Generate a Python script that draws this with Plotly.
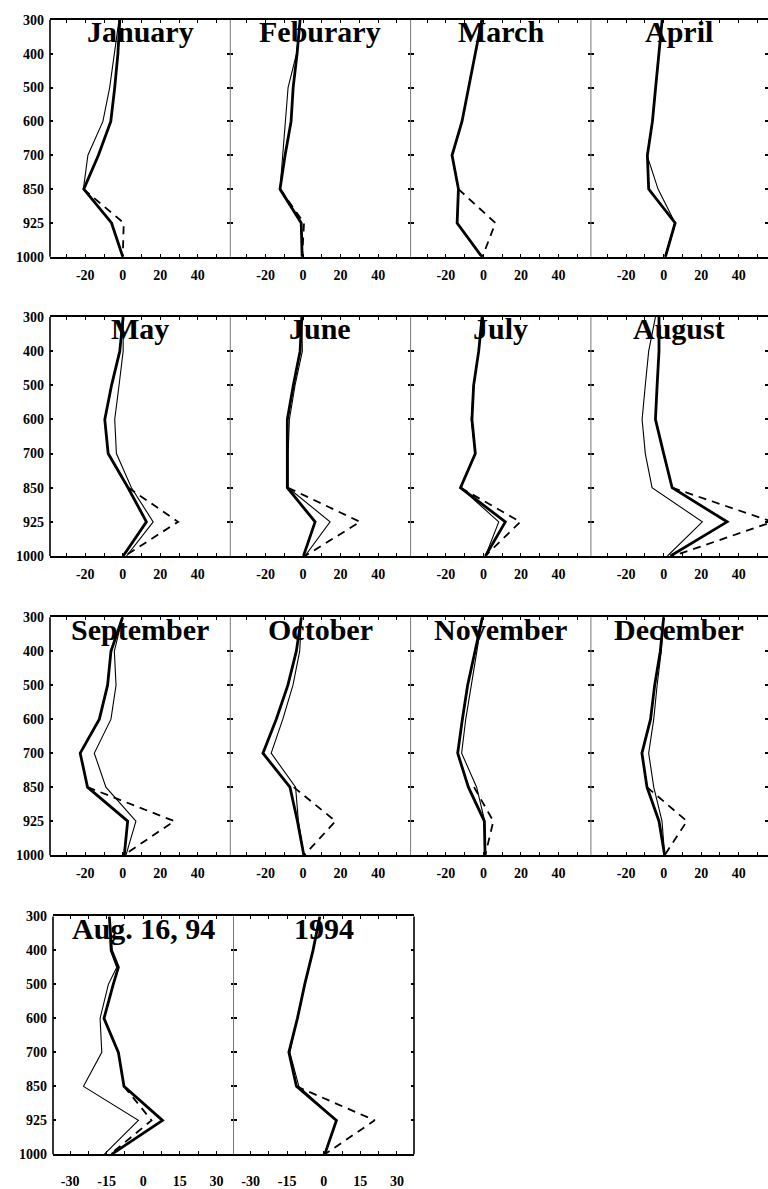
import numpy as np
import plotly.graph_objects as go

# Pressure levels (hPa) shown on the vertical axis, top to bottom
LEVELS = [300, 400, 500, 600, 700, 850, 925, 1000]
LOW_LEVELS = [850, 925, 1000]
AUG16_LEVELS = [300, 400, 450, 500, 600, 700, 850, 925, 1000]

MONTH_XTICKS = [-20, 0, 20, 40]
CASE_XTICKS = [-30, -15, 0, 15, 30]

TITLES = ["January", "Feburary", "March", "April",
          "May", "June", "July", "August",
          "September", "October", "November", "December",
          "Aug. 16, 94", "1994"]

# Profiles: thick solid, thin solid and dashed (dashed only in the lowest layer)
jan_thick = [-1.6, -2.6, -4.3, -6.4, -13.0, -20.8, -6.0, 0.0]
jan_thin = [-2.0, -4.3, -7.0, -10.6, -18.6, -21.0, -6.0, 0.0]
jan_dash = [-21.0, 0.5, 0.0]

feb_thick = [-1.6, -3.2, -5.3, -6.4, -9.6, -12.3, -1.0, -0.5]
feb_thin = [-1.6, -3.5, -8.0, -9.5, -11.0, -12.3, -1.0, -0.5]
feb_dash = [-12.3, 0.5, -0.5]

mar_thick = [-0.8, -4.4, -8.0, -11.4, -16.7, -13.3, -14.0, -0.8]
mar_thin = [-0.8, -4.4, -8.0, -11.4, -16.7, -13.3, -14.0, -0.8]
mar_dash = [-13.3, 6.4, -0.5]

apr_thick = [-0.8, -2.7, -4.3, -6.0, -8.7, -8.0, 6.1, 0.9]
apr_thin = [-0.8, -2.7, -4.3, -6.0, -8.9, -3.0, 6.1, 0.9]
apr_dash = [-8.0, 6.1, 0.9]

may_thick = [0.2, -1.6, -6.0, -9.6, -7.8, 2.8, 12.6, 0.2]
may_thin = [0.2, 0.2, -2.0, -4.3, -3.4, 4.6, 16.2, 2.0]
may_dash = [3.0, 29.5, 1.0]

jun_thick = [-0.7, -1.6, -5.2, -8.4, -8.4, -8.4, 6.4, 0.2]
jun_thin = [-0.7, -0.4, -4.3, -7.3, -8.0, -8.0, 14.4, 1.0]
jun_dash = [-8.0, 30.4, 1.0]

jul_thick = [-0.7, -2.5, -5.2, -6.1, -4.3, -12.2, 11.7, 1.1]
jul_thin = [-0.7, -2.5, -5.2, -6.5, -4.3, -12.2, 8.2, 1.1]
jul_dash = [-12.2, 19.7, 1.0]

aug_thick = [-2.5, -2.5, -3.5, -4.4, 0.0, 4.5, 33.8, 3.6]
aug_thin = [-4.4, -8.0, -9.8, -11.5, -9.8, -6.2, 20.6, 2.0]
aug_dash = [4.5, 58.0, 5.0]

sep_thick = [-0.1, -6.3, -8.1, -12.5, -22.7, -18.8, 2.6, 0.8]
sep_thin = [-0.1, -4.5, -3.6, -6.3, -15.2, -9.0, 7.0, 1.7]
sep_dash = [-18.8, 27.5, 0.5]

oct_thick = [-0.9, -3.6, -8.1, -14.3, -21.4, -7.0, -3.0, 0.4]
oct_thin = [-0.9, -1.8, -5.4, -10.8, -17.0, -4.0, -2.5, 0.4]
oct_dash = [-5.0, 17.3, 0.6]

nov_thick = [-0.5, -4.4, -8.4, -11.2, -13.7, -8.0, 0.5, 0.9]
nov_thin = [-0.5, -3.6, -6.6, -9.4, -11.6, -3.6, 0.7, 0.9]
nov_dash = [-5.0, 5.3, 1.0]

dec_thick = [0.0, -1.8, -4.8, -7.0, -11.6, -8.9, -2.5, 0.5]
dec_thin = [0.0, -1.3, -3.5, -5.3, -8.0, -5.3, -0.9, 0.5]
dec_dash = [-8.9, 12.4, 0.5]

aug16_thick = [-13.9, -13.0, -10.2, -12.3, -16.1, -10.2, -7.9, 7.9, -13.0]
aug16_thin = [-13.9, -13.5, -10.9, -14.3, -17.7, -17.0, -24.5, -2.0, -16.0]
aug16_dash = [-7.9, 3.4, -13.5]

y1994_thick = [-1.6, -4.4, -7.8, -10.8, -14.3, -11.2, 5.2, 0.4]
y1994_thin = [-1.6, -4.4, -7.8, -10.8, -13.9, -10.2, 5.2, 0.4]
y1994_dash = [-11.2, 20.9, 0.4]

PANELS = [
    (LEVELS, jan_thick, jan_thin, jan_dash),
    (LEVELS, feb_thick, feb_thin, feb_dash),
    (LEVELS, mar_thick, mar_thin, mar_dash),
    (LEVELS, apr_thick, apr_thin, apr_dash),
    (LEVELS, may_thick, may_thin, may_dash),
    (LEVELS, jun_thick, jun_thin, jun_dash),
    (LEVELS, jul_thick, jul_thin, jul_dash),
    (LEVELS, aug_thick, aug_thin, aug_dash),
    (LEVELS, sep_thick, sep_thin, sep_dash),
    (LEVELS, oct_thick, oct_thin, oct_dash),
    (LEVELS, nov_thick, nov_thin, nov_dash),
    (LEVELS, dec_thick, dec_thin, dec_dash),
    (AUG16_LEVELS, aug16_thick, aug16_thin, aug16_dash),
    (LEVELS, y1994_thick, y1994_thin, y1994_dash),
]

W, H = 768, 1189
ROW_PX = [(13, 253), (314, 556), (618, 859), (921, 1162)]
MONTH_EDGES = [50, 230.3, 410.6, 590.9, 768]
CASE_EDGES = [53, 233.5, 414]
MONTH_PX_PER_UNIT = 1.876
MONTH_XMIN = -38.8
CASE_XRANGE = [-37, 37]

LEVEL_POS = list(range(len(LEVELS)))


def level_position(pressures):
    # equal spacing between the labelled levels on the vertical axis
    return np.interp(pressures, LEVELS, LEVEL_POS)


TICK_FONT = dict(family="Liberation Serif", size=14, color="black", weight="bold")
TITLE_FONT = dict(family="Liberation Serif", size=30, color="black", weight="bold")

fig = go.Figure()
layout = dict(
    width=W, height=H, margin=dict(l=0, r=0, t=0, b=0),
    paper_bgcolor="white", plot_bgcolor="white", showlegend=False,
)
shapes = []
annotations = []

for i, (levels, thick, thin, dash) in enumerate(PANELS):
    n = i + 1
    row = i // 4
    col = i % 4
    top, bottom = ROW_PX[row]
    if row < 3:
        x0, x1 = MONTH_EDGES[col], MONTH_EDGES[col + 1]
        xr = [MONTH_XMIN, MONTH_XMIN + (x1 - x0) / MONTH_PX_PER_UNIT]
        xt = MONTH_XTICKS
        minor_dtick = 10
        standoff = 4
    else:
        x0, x1 = CASE_EDGES[col], CASE_EDGES[col + 1]
        xr = CASE_XRANGE
        xt = CASE_XTICKS
        minor_dtick = 7.5
        standoff = 13

    xa = "x" if n == 1 else f"x{n}"
    ya = "y" if n == 1 else f"y{n}"

    fig.add_trace(go.Scatter(
        x=dash, y=level_position(LOW_LEVELS), xaxis=xa, yaxis=ya, mode="lines",
        line=dict(color="black", width=1.8, dash="8px,6px"), hoverinfo="skip"))
    fig.add_trace(go.Scatter(
        x=thick, y=level_position(levels), xaxis=xa, yaxis=ya, mode="lines",
        line=dict(color="black", width=2.8), hoverinfo="skip"))
    fig.add_trace(go.Scatter(
        x=thin, y=level_position(levels), xaxis=xa, yaxis=ya, mode="lines",
        line=dict(color="black", width=1.1), hoverinfo="skip"))

    layout["xaxis" if n == 1 else f"xaxis{n}"] = dict(
        domain=[x0 / W, x1 / W], range=xr, anchor=ya,
        tickvals=xt, ticktext=[str(v) for v in xt],
        ticks="inside", ticklen=3, tickwidth=1, tickcolor="black",
        minor=dict(dtick=minor_dtick, tick0=0, ticks="inside", ticklen=3,
                   tickcolor="black", showgrid=False),
        showline=True, linewidth=2, linecolor="black", mirror="allticks",
        showgrid=False, zeroline=False, tickfont=TICK_FONT,
        ticklabelstandoff=standoff, fixedrange=True,
    )
    layout["yaxis" if n == 1 else f"yaxis{n}"] = dict(
        domain=[1 - bottom / H, 1 - top / H], range=[len(LEVELS) - 1, 0],
        anchor=xa, tickvals=LEVEL_POS, ticktext=[str(v) for v in LEVELS],
        showticklabels=(col == 0), ticks="inside", ticklen=3, tickwidth=1.5,
        tickcolor="black", mirror="ticks", showline=False, showgrid=False,
        zeroline=False, tickfont=TICK_FONT, ticklabelstandoff=5, fixedrange=True,
    )
    annotations.append(dict(
        text=TITLES[i], xref=f"{xa} domain", x=0.5, yref="paper",
        y=1 - (top + 12) / H, xanchor="center", yanchor="middle",
        showarrow=False, font=TITLE_FONT))

# frame edges and panel dividers
for row, (top, bottom) in enumerate(ROW_PX):
    edges = MONTH_EDGES if row < 3 else CASE_EDGES
    for k, ex in enumerate(edges):
        if row < 3 and k == len(edges) - 1:
            continue
        outer = k == 0 or k == len(edges) - 1
        shapes.append(dict(
            type="line", xref="paper", yref="paper",
            x0=ex / W, x1=ex / W, y0=1 - top / H, y1=1 - bottom / H,
            line=dict(color="black" if outer else "#777777",
                      width=1.6 if outer else 1)))

layout["shapes"] = shapes
layout["annotations"] = annotations
fig.update_layout(**layout)
fig.write_html("out.html")
